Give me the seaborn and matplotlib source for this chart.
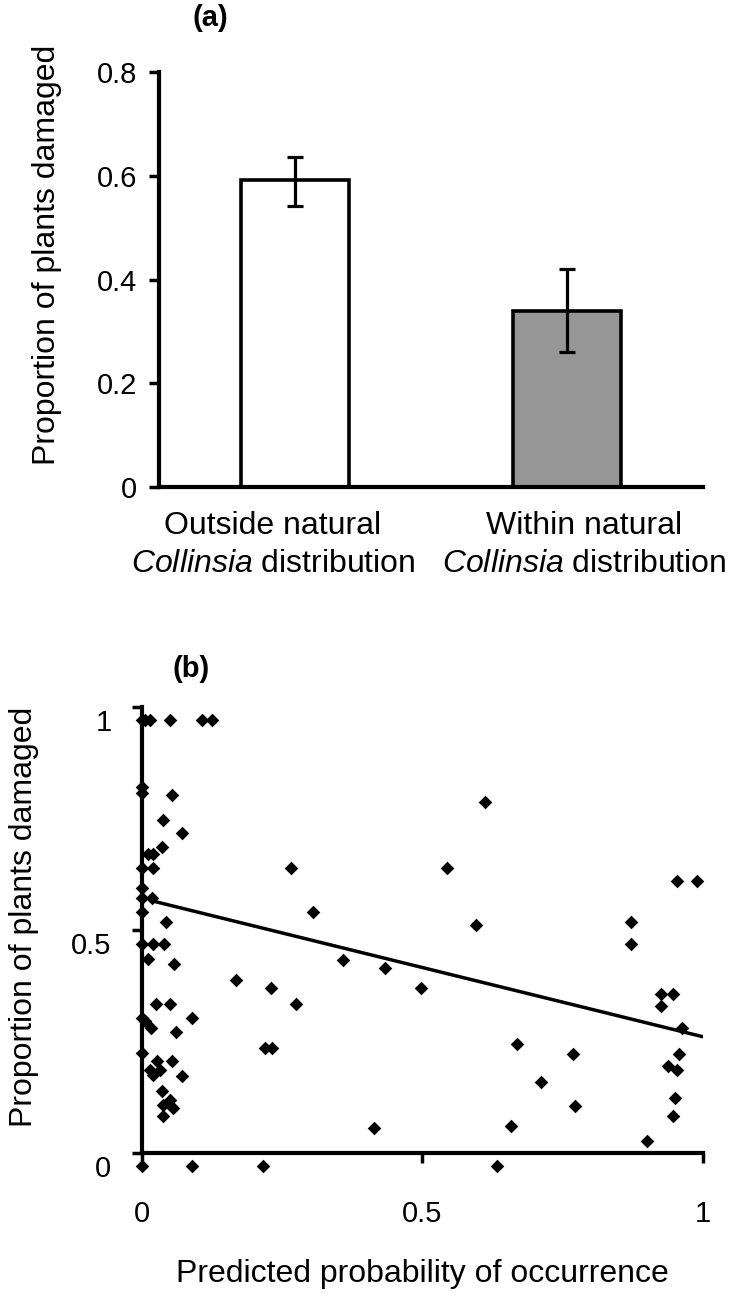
import matplotlib as mpl
mpl.use('agg')
import matplotlib.pyplot as plt
import matplotlib.transforms as mtransforms
from matplotlib.ticker import FixedLocator
import seaborn as sns

# panel (a): damage inside / outside the natural Collinsia range
groups = ['Outside', 'Within']
group_labels = ['Outside natural\n$\\it{Collinsia}$ distribution',
                'Within natural\n$\\it{Collinsia}$ distribution']
damage_mean = [0.592, 0.339]
err_low = [0.051, 0.078]
err_high = [0.045, 0.081]
bar_colors = ['white', '#969696']
a_yticks = [0, 0.2, 0.4, 0.6, 0.8]

# panel (b): proportion damaged vs predicted probability of occurrence
pred_prob = [0.0, 0.005, 0.015, 0.05, 0.107, 0.125,
             0.0, 0.0, 0.053, 0.037, 0.071,
             0.011, 0.020, 0.036, 0.0, 0.02, 0.0, 0.0, 0.018, 0.0, 0.043,
             0.0, 0.02, 0.039, 0.011, 0.057, 0.025, 0.05, 0.0, 0.005,
             0.016, 0.089, 0.060, 0.0, 0.027, 0.053, 0.014, 0.02, 0.032,
             0.071, 0.036, 0.037, 0.05, 0.055, 0.037, 0.0, 0.089,
             0.266, 0.543, 0.305, 0.596, 0.167, 0.230, 0.359, 0.434, 0.498,
             0.274, 0.219, 0.231, 0.413, 0.216,
             0.612, 0.954, 0.989, 0.871, 0.871, 0.925, 0.947, 0.925, 0.963,
             0.669, 0.769, 0.957, 0.938, 0.954, 0.712, 0.772, 0.950, 0.947,
             0.658, 0.900, 0.632]
prop_damaged = [1.0, 1.0, 1.0, 1.0, 1.0, 1.0,
                0.85, 0.836, 0.832, 0.776, 0.747,
                0.70, 0.70, 0.715, 0.668, 0.668, 0.623, 0.601, 0.601, 0.570, 0.547,
                0.498, 0.498, 0.498, 0.464, 0.453, 0.363, 0.363, 0.332, 0.325,
                0.309, 0.332, 0.30, 0.253, 0.235, 0.235, 0.215, 0.204, 0.215,
                0.202, 0.168, 0.137, 0.148, 0.130, 0.112, 0.0, 0.0,
                0.668, 0.668, 0.570, 0.540, 0.417, 0.400, 0.462, 0.444, 0.400,
                0.363, 0.265, 0.265, 0.085, 0.0,
                0.817, 0.639, 0.639, 0.547, 0.498, 0.386, 0.386, 0.359, 0.309,
                0.274, 0.251, 0.251, 0.224, 0.215, 0.188, 0.135, 0.152, 0.112,
                0.090, 0.056, 0.0]
fit_x = [0.02, 1.0]
fit_y = [0.594, 0.29]
b_ticks = [0, 0.5, 1]
b_tick_labels = ['0', '0.5', '1']

sns.set_style('white')
plt.rcParams['font.family'] = ['Liberation Sans', 'DejaVu Sans']
plt.rcParams['mathtext.fontset'] = 'custom'
plt.rcParams['mathtext.rm'] = 'Liberation Sans'
plt.rcParams['mathtext.it'] = 'Liberation Sans:italic'
for key in ['text.color', 'axes.labelcolor', 'xtick.color', 'ytick.color', 'axes.edgecolor']:
    plt.rcParams[key] = 'black'

fig = plt.figure(figsize=(7.3, 12.94), dpi=100)

# ---- (a) bar chart
ax1 = fig.add_axes([0.2178, 0.6236, 0.7452, 0.3207])
sns.barplot(x=groups, y=damage_mean, hue=groups, palette=bar_colors, width=0.4,
            edgecolor='black', linewidth=2.6, legend=False, ax=ax1)
ax1.errorbar(x=[0, 1], y=damage_mean, yerr=[err_low, err_high], fmt='none',
             ecolor='black', elinewidth=2.3, capsize=6, capthick=2.3)
ax1.set_xlim(-0.5, 1.5)
ax1.set_ylim(0, 0.8)
ax1.set_yticks(a_yticks)
ax1.set_yticklabels(['0', '0.2', '0.4', '0.6', '0.8'])
ax1.set_xticks([0, 1])
ax1.set_xticklabels(group_labels, linespacing=1.35)
ax1.tick_params(axis='y', direction='out', length=7, width=2.5, labelsize=21, pad=9, left=True)
ax1.tick_params(axis='x', length=0, labelsize=23, pad=17)
for lab, dx in zip(ax1.get_xticklabels(), [-0.22, 0.17]):
    lab.set_transform(lab.get_transform() + mtransforms.ScaledTranslation(dx, 0, fig.dpi_scale_trans))
ax1.set_ylabel('Proportion of plants damaged', fontsize=23)
ax1.yaxis.set_label_coords(-0.178, 0.56)
for side in ['top', 'right']:
    ax1.spines[side].set_visible(False)
for side in ['left', 'bottom']:
    ax1.spines[side].set_linewidth(3)
fig.text(0.288, 0.986, '(a)', fontsize=21, fontweight='bold', ha='center', va='center')

# ---- (b) scatter with fitted line
ax2 = fig.add_axes([0.1945, 0.0850, 0.7685, 0.3686])
sns.scatterplot(x=pred_prob, y=prop_damaged, marker='D', color='black', s=48,
                linewidth=0, clip_on=False, zorder=3, ax=ax2)
sns.lineplot(x=fit_x, y=fit_y, color='black', linewidth=2.5, ax=ax2)
ax2.set_xlim(0, 1)
ax2.set_ylim(-0.04, 1.029)
ax2.spines['bottom'].set_position(('data', 0.029))
ax2.spines['left'].set_bounds(0.029, 1.029)
ax2.set_xticks(b_ticks)
ax2.set_xticklabels(b_tick_labels)
ax2.set_yticks(b_ticks)
ax2.set_yticklabels(b_tick_labels)
ax2.yaxis.set_minor_locator(FixedLocator([0.029, 0.529, 1.029]))
ax2.tick_params(axis='y', which='major', length=0, labelsize=21, pad=22, left=True)
ax2.tick_params(axis='y', which='minor', direction='out', length=7, width=2.5, left=True)
ax2.tick_params(axis='x', direction='out', length=7, width=2.5, labelsize=21, pad=27, bottom=True)
ax2.set_xlabel('Predicted probability of occurrence', fontsize=23, labelpad=22)
ax2.set_ylabel('Proportion of plants damaged', fontsize=23)
ax2.yaxis.set_label_coords(-0.184, 0.56)
for side in ['top', 'right']:
    ax2.spines[side].set_visible(False)
for side in ['left', 'bottom']:
    ax2.spines[side].set_linewidth(3)
fig.text(0.262, 0.483, '(b)', fontsize=21, fontweight='bold', ha='center', va='center')

plt.savefig('out.png', dpi=100)
